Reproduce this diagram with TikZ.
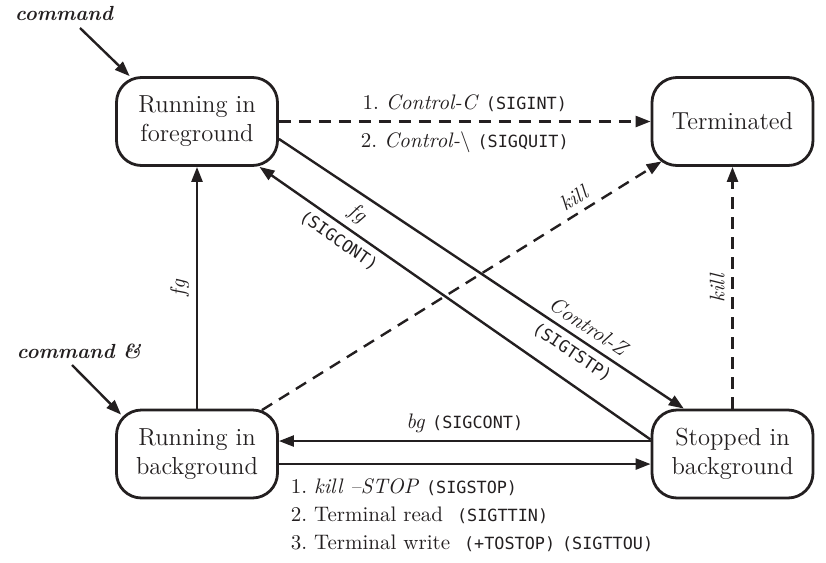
\documentclass[tikz,border=0pt]{standalone}
\usepackage{fontspec}
\setmonofont{DejaVu Sans Mono}[Scale=0.8]
\usetikzlibrary{arrows.meta}
\definecolor{ink}{HTML}{231F20}
\begin{document}
\frenchspacing
\begin{tikzpicture}[x=0.5pt,y=-0.5pt,ink,
  state/.style={draw,line width=1.4pt,rounded corners=12.5pt,minimum width=80.5pt,minimum height=44pt,align=center,inner sep=0pt,font=\fontsize{12.3}{13.5}\selectfont},
  arr/.style={line width=1.2pt,-{Triangle[length=7.5pt,width=5.5pt]}},
  dsh/.style={arr,dash pattern=on 6pt off 4pt},
  lbl/.style={font=\fontsize{10.5}{13}\selectfont,text=ink},
  cmdlbl/.style={font=\fontsize{10.2}{12}\selectfont\bfseries\itshape,text=ink}]
\useasboundingbox (0,0) rectangle (826,563);

\node[state] (fg) at (197,121.5) {Running in\\[1pt]foreground};
\node[state] (term) at (732.5,121.5) {Terminated};
\node[state] (bg) at (197,454) {Running in\\[1pt]background};
\node[state] (stop) at (732.5,454) {Stopped in\\[1pt]background};

\node[cmdlbl] (cmd) at (64,13) {command};
\node[cmdlbl] (cmdbg) at (79,351) {command \&};
\coordinate (cmdin) at (80,28);
\coordinate (cmdbgin) at (72,365);

\draw[arr] (cmdin) -- (fg.146);
\draw[arr] (cmdbgin) -- ([shift={(6,6)}]bg.north west);

\draw[dsh] (fg.east) -- (term.west)
  node[lbl,midway,above=1pt] {1. \textit{Control-C} \texttt{(SIGINT)}}
  node[lbl,midway,below=1pt] {2. \textit{Control-}\textbackslash{} \texttt{(SIGQUIT)}};
\draw[arr] (fg.-12.4) -- (stop.137)
  node[lbl,pos=0.745,sloped,above] {\textit{Control-Z}}
  node[lbl,pos=0.745,sloped,below] {\texttt{(SIGTSTP)}};
\draw[arr] (stop.170) -- (fg.-36)
  node[lbl,pos=0.775,sloped,above] {\textit{fg}}
  node[lbl,pos=0.775,sloped,below] {\texttt{(SIGCONT)}};
\draw[dsh,shorten <=-1.4pt] (bg.34) -- ([shift={(11,-5.5)}]term.south west)
  node[lbl,pos=0.8,sloped,above] {\textit{kill}};
\draw[dsh] (stop.north) -- (term.south)
  node[lbl,midway,sloped,above] {\textit{kill}};
\draw[arr] (bg.north) -- (fg.south)
  node[lbl,midway,sloped,above] {\textit{fg}};
\draw[arr] (stop.171) -- (stop.171 -| bg.east)
  node[lbl,midway,above=0pt] {\textit{bg} \texttt{(SIGCONT)}};
\draw[arr] (bg.-7.5) -- (bg.-7.5 -| stop.west)
  node[lbl,at start,anchor=north west,xshift=2pt,yshift=-3.5pt,align=left] {1. \textit{kill --STOP} \texttt{(SIGSTOP)}\\[1pt]2. Terminal read \ \texttt{(SIGTTIN)}\\[1pt]3. Terminal write \ \texttt{(+TOSTOP)} \texttt{(SIGTTOU)}};
\end{tikzpicture}
\end{document}
